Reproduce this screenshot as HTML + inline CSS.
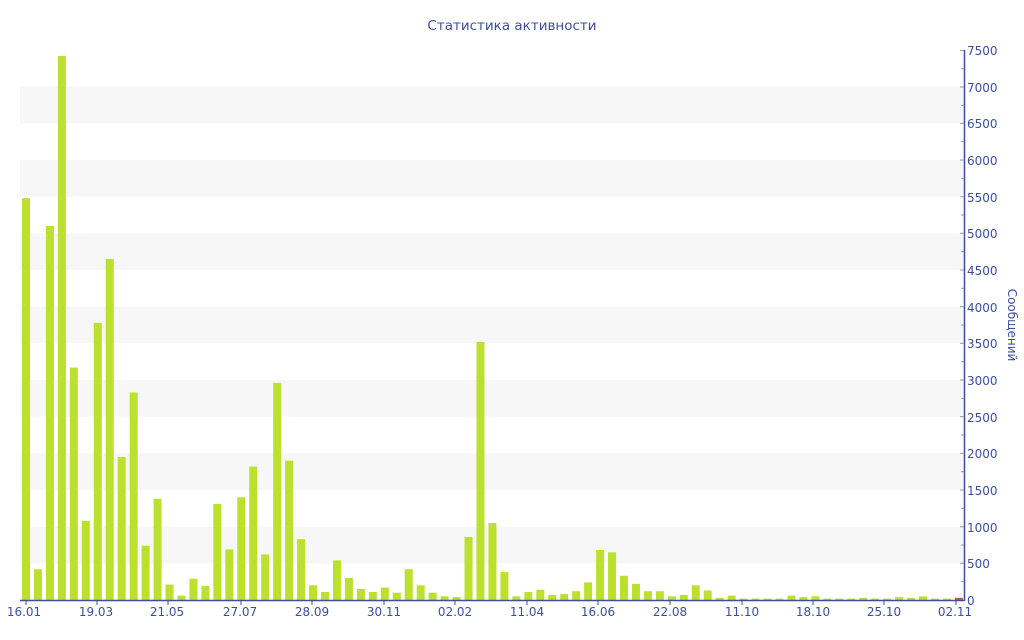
<!DOCTYPE html>
<html><head><meta charset="utf-8"><style>
html,body{margin:0;padding:0;background:#fff;}
svg{display:block;font-family:"DejaVu Sans","Liberation Sans",sans-serif;}
</style></head><body>
<svg width="1024" height="640" viewBox="0 0 1024 640" xmlns="http://www.w3.org/2000/svg">
<rect width="1024" height="640" fill="#fff"/>
<g fill="#f7f7f7">
<rect x="20" y="527" width="944" height="36.7"/>
<rect x="20" y="453.3" width="944" height="36.7"/>
<rect x="20" y="380" width="944" height="36.7"/>
<rect x="20" y="306.7" width="944" height="36.7"/>
<rect x="20" y="233.3" width="944" height="36.7"/>
<rect x="20" y="160" width="944" height="36.7"/>
<rect x="20" y="86.7" width="944" height="36.7"/>
</g>
<text x="512" y="30" text-anchor="middle" font-size="13.5" fill="#3d4f9c">Статистика активности</text>
<g transform="translate(0,600) scale(1,-0.073333)" fill="#bce02e">
<rect x="22" width="8" height="5480"/>
<rect x="33.96" width="8" height="420"/>
<rect x="45.92" width="8" height="5100"/>
<rect x="57.88" width="8" height="7420"/>
<rect x="69.84" width="8" height="3170"/>
<rect x="81.8" width="8" height="1080"/>
<rect x="93.76" width="8" height="3780"/>
<rect x="105.72" width="8" height="4650"/>
<rect x="117.68" width="8" height="1950"/>
<rect x="129.64" width="8" height="2830"/>
<rect x="141.6" width="8" height="740"/>
<rect x="153.56" width="8" height="1380"/>
<rect x="165.52" width="8" height="210"/>
<rect x="177.48" width="8" height="60"/>
<rect x="189.44" width="8" height="290"/>
<rect x="201.4" width="8" height="190"/>
<rect x="213.36" width="8" height="1310"/>
<rect x="225.32" width="8" height="690"/>
<rect x="237.28" width="8" height="1400"/>
<rect x="249.24" width="8" height="1820"/>
<rect x="261.2" width="8" height="620"/>
<rect x="273.16" width="8" height="2960"/>
<rect x="285.12" width="8" height="1900"/>
<rect x="297.08" width="8" height="830"/>
<rect x="309.04" width="8" height="200"/>
<rect x="321" width="8" height="110"/>
<rect x="332.96" width="8" height="540"/>
<rect x="344.92" width="8" height="300"/>
<rect x="356.88" width="8" height="150"/>
<rect x="368.84" width="8" height="110"/>
<rect x="380.8" width="8" height="170"/>
<rect x="392.76" width="8" height="100"/>
<rect x="404.72" width="8" height="420"/>
<rect x="416.68" width="8" height="200"/>
<rect x="428.64" width="8" height="100"/>
<rect x="440.6" width="8" height="50"/>
<rect x="452.56" width="8" height="40"/>
<rect x="464.52" width="8" height="860"/>
<rect x="476.48" width="8" height="3520"/>
<rect x="488.44" width="8" height="1050"/>
<rect x="500.4" width="8" height="380"/>
<rect x="512.36" width="8" height="50"/>
<rect x="524.32" width="8" height="110"/>
<rect x="536.28" width="8" height="140"/>
<rect x="548.24" width="8" height="70"/>
<rect x="560.2" width="8" height="80"/>
<rect x="572.16" width="8" height="120"/>
<rect x="584.12" width="8" height="240"/>
<rect x="596.08" width="8" height="680"/>
<rect x="608.04" width="8" height="650"/>
<rect x="620" width="8" height="330"/>
<rect x="631.96" width="8" height="220"/>
<rect x="643.92" width="8" height="120"/>
<rect x="655.88" width="8" height="120"/>
<rect x="667.84" width="8" height="50"/>
<rect x="679.8" width="8" height="70"/>
<rect x="691.76" width="8" height="200"/>
<rect x="703.72" width="8" height="130"/>
<rect x="715.68" width="8" height="30"/>
<rect x="727.64" width="8" height="60"/>
<rect x="739.6" width="8" height="20"/>
<rect x="751.56" width="8" height="20"/>
<rect x="763.52" width="8" height="20"/>
<rect x="775.48" width="8" height="20"/>
<rect x="787.44" width="8" height="60"/>
<rect x="799.4" width="8" height="40"/>
<rect x="811.36" width="8" height="50"/>
<rect x="823.32" width="8" height="20"/>
<rect x="835.28" width="8" height="20"/>
<rect x="847.24" width="8" height="20"/>
<rect x="859.2" width="8" height="30"/>
<rect x="871.16" width="8" height="20"/>
<rect x="883.12" width="8" height="20"/>
<rect x="895.08" width="8" height="40"/>
<rect x="907.04" width="8" height="30"/>
<rect x="919" width="8" height="50"/>
<rect x="930.96" width="8" height="20"/>
<rect x="942.92" width="8" height="20"/>
<rect x="954.88" width="8" height="30" fill="#e0502a"/>
</g>
<line x1="20" y1="600.5" x2="964" y2="600.5" stroke="#3d4f9c" stroke-width="1.5"/>
<line x1="964.5" y1="50" x2="964.5" y2="601" stroke="#3d4f9c" stroke-width="1.5"/>
<g stroke="#999" stroke-width="1">
<line x1="960" y1="50.5" x2="964" y2="50.5"/><line x1="961" y1="68.8" x2="964" y2="68.8"/>
<line x1="960" y1="87" x2="964" y2="87"/><line x1="961" y1="105.3" x2="964" y2="105.3"/>
<line x1="960" y1="123.3" x2="964" y2="123.3"/><line x1="961" y1="141.7" x2="964" y2="141.7"/>
<line x1="960" y1="160" x2="964" y2="160"/><line x1="961" y1="178.3" x2="964" y2="178.3"/>
<line x1="960" y1="196.7" x2="964" y2="196.7"/><line x1="961" y1="215" x2="964" y2="215"/>
<line x1="960" y1="233.3" x2="964" y2="233.3"/><line x1="961" y1="251.7" x2="964" y2="251.7"/>
<line x1="960" y1="270" x2="964" y2="270"/><line x1="961" y1="288.3" x2="964" y2="288.3"/>
<line x1="960" y1="306.7" x2="964" y2="306.7"/><line x1="961" y1="325" x2="964" y2="325"/>
<line x1="960" y1="343.3" x2="964" y2="343.3"/><line x1="961" y1="361.7" x2="964" y2="361.7"/>
<line x1="960" y1="380" x2="964" y2="380"/><line x1="961" y1="398.3" x2="964" y2="398.3"/>
<line x1="960" y1="416.7" x2="964" y2="416.7"/><line x1="961" y1="435" x2="964" y2="435"/>
<line x1="960" y1="453.3" x2="964" y2="453.3"/><line x1="961" y1="471.7" x2="964" y2="471.7"/>
<line x1="960" y1="490" x2="964" y2="490"/><line x1="961" y1="508.3" x2="964" y2="508.3"/>
<line x1="960" y1="526.7" x2="964" y2="526.7"/><line x1="961" y1="545" x2="964" y2="545"/>
<line x1="960" y1="563.3" x2="964" y2="563.3"/><line x1="961" y1="581.7" x2="964" y2="581.7"/>
</g>
<g font-size="12" fill="#3d4f9c">
<text x="967" y="55">7500</text><text x="967" y="92">7000</text><text x="967" y="128">6500</text>
<text x="967" y="165">6000</text><text x="967" y="202">5500</text><text x="967" y="238">5000</text>
<text x="967" y="275">4500</text><text x="967" y="312">4000</text><text x="967" y="348">3500</text>
<text x="967" y="385">3000</text><text x="967" y="422">2500</text><text x="967" y="458">2000</text>
<text x="967" y="495">1500</text><text x="967" y="532">1000</text><text x="967" y="568">500</text>
<text x="967" y="605">0</text>
</g>
<text transform="translate(1008,325) rotate(90)" text-anchor="middle" font-size="12" fill="#3d4f9c">Сообщений</text>
<g stroke="#3d4f9c" stroke-width="1">
<line x1="26" y1="600" x2="26" y2="605"/><line x1="97" y1="600" x2="97" y2="605"/>
<line x1="168" y1="600" x2="168" y2="605"/><line x1="241" y1="600" x2="241" y2="605"/>
<line x1="312" y1="600" x2="312" y2="605"/><line x1="384" y1="600" x2="384" y2="605"/>
<line x1="455" y1="600" x2="455" y2="605"/><line x1="527" y1="600" x2="527" y2="605"/>
<line x1="598" y1="600" x2="598" y2="605"/><line x1="670" y1="600" x2="670" y2="605"/>
<line x1="742" y1="600" x2="742" y2="605"/><line x1="813" y1="600" x2="813" y2="605"/>
<line x1="884" y1="600" x2="884" y2="605"/><line x1="956" y1="600" x2="956" y2="605"/>
</g>
<g font-size="12" fill="#3d4f9c" text-anchor="middle">
<text x="24" y="616">16.01</text><text x="96" y="616">19.03</text><text x="167" y="616">21.05</text>
<text x="240" y="616">27.07</text><text x="312" y="616">28.09</text><text x="384" y="616">30.11</text>
<text x="455" y="616">02.02</text><text x="527" y="616">11.04</text><text x="598" y="616">16.06</text>
<text x="670" y="616">22.08</text><text x="742" y="616">11.10</text><text x="813" y="616">18.10</text>
<text x="884" y="616">25.10</text><text x="955" y="616">02.11</text>
</g>
</svg>
</body></html>
